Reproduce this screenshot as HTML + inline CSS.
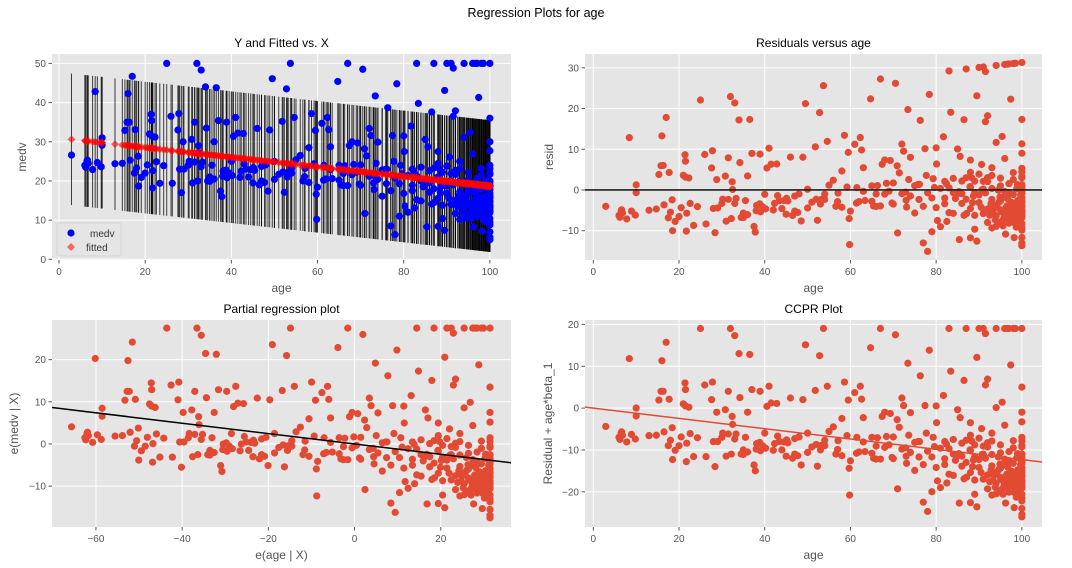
<!DOCTYPE html>
<html><head><meta charset="utf-8">
<style>
html,body{margin:0;padding:0;background:#fff;}
svg{display:block;font-family:"Liberation Sans","DejaVu Sans",sans-serif;}
.tick{font-size:10px;fill:#555;}
.alab{font-size:12px;fill:#555;}
.ttl{font-size:12px;fill:#000;}
</style></head>
<body>
<svg id="fig" width="1072" height="568" viewBox="0 0 1072 568">
<text x="536" y="17" text-anchor="middle" style="font-size:12.5px">Regression Plots for age</text>
</svg>
<script>
const ages=[2.9,6,6.2,6.5,6.6,6.8,7.8,8.4,8.9,9.8,10,10,13,14.7,15.3,15.8,16,16.3,16.5,17,17.5,17.7,18,18.4,18.5,19.1,20,21,21.4,21.5,21.5,21.7,21.8,22.3,22.6,23.4,25,26,26.3,27.6,27.8,28,28.4,28.8,29,30.2,30.8,31,31.5,32,32.2,32.4,33,33.3,34,34.2,34.5,35,35.5,36,36.5,37,37.5,37.8,38.1,38.9,39,40,40.2,40.5,41,41.5,42.3,42.8,43.4,44,45.4,46,46.5,47,47.7,48.5,48.9,49.5,50,51.8,52.3,52.8,53,53.7,54,54.6,56,56.6,57.1,58,58.6,59.2,59.5,59.7,59.8,61,61.5,62.3,62.6,63,63.4,64.7,65,65.4,66,67,67.4,68,68.4,69.3,70,70.5,70.9,71,71.4,72,72.4,73.1,73.4,73.6,74,75,75.8,76.3,77,77.4,77.7,78,78.4,79,79.3,80,80.1,80.3,81,81.7,82,82.5,83,83.4,84,85,85.4,85.6,86.5,87,87.1,88,88,88.3,89,89.5,89.5,90,90.6,91,91.5,91.5,92,92,93,93,94,94,95,95,95.4,96,96,96.2,96.6,97,97.4,97.5,98,98,98.2,98.5,99,100,100,100,100,100,100,100,100,100,100,100,100,100,100,100,
84,84.5,86,87,88.5,89,90,90.5,91,91.5,92.5,93,93.5,94,94.5,95,95.5,96,96.5,97,97,97.5,98,98,98.5,98.8,99,99.3,99.5,99.7,100,100,100,100,100,100,100,100,94,92,96,82,83,84,86.5,87.9,88,89,91,92,93,95,97,98,99,86,88,90,
30,31.5,33,35,36,38,39.5,42,43,44.5,45,47,48,50,51,52,54,55,57,58,60,62,63,65,66,67,68,69,70,72,73,74,75,76,77,78,79,80,81,82,83,85,86,87,88,89,90,91,92,93,
93.3,93.8,94.2,94.7,95.2,95.6,95.9,96.3,96.8,97.2,97.6,97.9,98.3,98.6,98.9,99.1,99.4,99.6,99.8,100,100,100,100,100,94.6,95.8,96.7,97.3,98.1,98.7,99.2,99.9,92.8,93.6,94.9,96.4,97.7,99,100,100,
20.5,24.3,32.5,38.8,45.1,53.2,61.4,66.3,69.7,72.9,76.1,79.6,82.4,85.3,88.7,90.7];
const medv=[26.6,24,23.5,25,25.3,24.5,22.9,42.8,24.7,23.6,31,29.1,24.4,24.5,32.9,35,42.3,35,25.3,46.7,22,33.1,23.3,26.3,18.7,20.9,22,32,37,35.4,31.5,18.2,22.6,31.2,24.9,19.4,50,36.5,19.4,33,37.2,23,17,30,23,25,30.6,19.5,35,50,20,29,48.3,24.8,44,33.5,20,21,24,30,43.8,35.4,17.4,16,22.5,35,20.8,25,21.4,31.4,36.2,32.2,22.5,32.1,23,21,22.7,33.4,19,23.7,19.6,17.4,33,46.1,20.4,35.2,17.1,43.5,21,50,22,36.2,26.5,20,23.2,28.5,37.2,24.4,32.9,16.6,10.2,34.7,24,36.2,33.1,28.7,20.6,45.4,24,19,18.8,50,29,30,24.2,29.7,18.9,48.5,28.2,11.7,26.4,33.4,31.6,17.8,41.7,24.5,29.9,16.1,23,38.7,8.5,31.6,25,6.3,44.8,11,24,31.5,27.5,13.6,12,34,23,13.1,50,39.8,23.5,30.6,8.3,28.7,37.6,50,14.5,27.5,8.4,23.1,10.4,43.1,7.4,50,26.1,50,48.8,36.5,37.9,15,10.2,25,50,31.1,14.4,22.2,32.4,50,26.9,8.3,50,50,41.3,12,50,21.5,7.2,50,15,50,36,30,27.7,24,20,17.8,13.8,10.4,8.8,7,5,5.6,12.5,15.6,
20,18.5,19.5,18,17,19.4,16.8,15.6,14,19,13.4,17.2,14.9,13.1,19.3,16.6,11.8,13.8,15.2,18.4,10.9,14.1,17.8,13.3,12.7,19.1,16.2,11.3,14.3,17.5,19.1,16.1,14.6,11.9,22,21.7,9.5,13.1,10.5,11.7,18.8,18.9,21.3,14.9,14.1,21,15.6,13.8,20,21.7,19.9,20.3,20.6,23.2,20.1,22.6,20.8,18.7,
24,24.8,23.6,19.9,20.5,21.2,22,20.9,24.3,22.9,19.5,20,24.1,25,21.7,22.3,23.3,25.4,21.1,19.6,18.4,20.5,22.9,20.2,21.9,18.8,21.6,22.2,24.1,21.2,19.5,20.4,22.8,19.3,17.5,20.7,19.3,16.8,21.4,17.5,15.2,19.6,17.1,23.3,24.5,22.2,23.8,21.9,22.7,23.1,
13.8,12.1,15.4,11.2,13.9,10.4,12.7,14.8,11.7,13.2,15.9,12.4,10.8,14.5,13.1,11.5,12.9,14.2,10.2,13.4,18.2,14.9,12.2,16.8,16.3,17.4,16.9,12.3,15.1,9.7,13.6,18.6,16.2,15.7,17.6,12.1,11.3,14.4,23.1,19.8,
24.1,23.9,27.1,22.8,23.4,22.1,20.2,23.9,19.2,21.5,23,21.8,22.4,20.1,18.6,19.9];
const intercept=[30.98];
const slope=[-0.123];
const piHalf=[16.8];
const meanAge=[68.57];
const meanMedv=[22.53];
const xTicksAge=[0,20,40,60,80,100];
const yTicksTL=[0,10,20,30,40,50];
const yTicksTR=[-10,0,10,20,30];
const xTicksBL=[-60,-40,-20,0,20];
const yTicksBL=[-10,0,10,20];
const yTicksBR=[-20,-10,0,10,20];

const NS='http://www.w3.org/2000/svg';
const svg=document.getElementById('fig');
function mk(tag,attrs,parent){const e=document.createElementNS(NS,tag);for(const k in attrs)e.setAttribute(k,attrs[k]);(parent||svg).appendChild(e);return e;}
function scale(d0,d1,r0,r1){return v=>r0+(v-d0)/(d1-d0)*(r1-r0);}

function panel(o){
  const g=mk('g',{});
  
  
  const bg=mk('rect',{x:o.x0,y:o.y0,width:o.x1-o.x0,height:o.y1-o.y0,fill:'#E5E5E5'},g);
  
  
  const sx=scale(o.xd[0],o.xd[1],o.x0,o.x1), sy=scale(o.yd[0],o.yd[1],o.y1,o.y0);
  o.xt.forEach(t=>{const X=sx(t);
    const l=mk('line',{x1:X,x2:X,y1:o.y0,y2:o.y1,stroke:'#fff','stroke-width':1},g);
    
    
    mk('line',{x1:X,x2:X,y1:o.y1,y2:o.y1+3.5,stroke:'#555'},g);
    const tx=mk('text',{x:X,y:o.y1+15,'text-anchor':'middle',class:'tick'},g);
    tx.textContent=String(t).replace('-','\u2212');
    
    
  });
  o.yt.forEach(t=>{const Y=sy(t);
    const l=mk('line',{x1:o.x0,x2:o.x1,y1:Y,y2:Y,stroke:'#fff','stroke-width':1},g);
    
    
    mk('line',{x1:o.x0-3.5,x2:o.x0,y1:Y,y2:Y,stroke:'#555'},g);
    const tx=mk('text',{x:o.x0-6,y:Y+3.5,'text-anchor':'end',class:'tick'},g);
    tx.textContent=String(t).replace('-','\u2212');
    
    
  });
  const t=mk('text',{x:(o.x0+o.x1)/2,y:o.y0-7,'text-anchor':'middle',class:'ttl'},g);
  t.textContent=o.title;
  
  
  const xl=mk('text',{x:(o.x0+o.x1)/2,y:o.y1+32,'text-anchor':'middle',class:'alab'},g);
  xl.textContent=o.xlab;
  
  
  const yc=(o.y0+o.y1)/2;
  const yl=mk('text',{x:o.ylx,y:yc,'text-anchor':'middle',class:'alab',transform:`rotate(-90 ${o.ylx} ${yc})`},g);
  yl.textContent=o.ylab;
  
  
  const clip=mk('clipPath',{id:'c'+o.name},g);
  mk('rect',{x:o.x0,y:o.y0,width:o.x1-o.x0,height:o.y1-o.y0},clip);
  const plot=mk('g',{'clip-path':`url(#c${o.name})`},g);
  return {sx,sy,plot};
}
function fitted(a){return intercept[0]+slope[0]*a;}

// Top-left
{
  const p=panel({name:'y-fitted-panel',x0:52,x1:511,y0:54,y1:260,xd:[-1.62,104.9],yd:[-0.18,52.4],xt:xTicksAge,yt:yTicksTL,title:'Y and Fitted vs. X',xlab:'age',ylab:'medv',ylx:26});
  ages.forEach((a,i)=>{const f=fitted(a);
    const l=mk('line',{x1:p.sx(a),x2:p.sx(a),y1:p.sy(f-piHalf[0]),y2:p.sy(f+piHalf[0]),stroke:'#000','stroke-width':1,'stroke-opacity':0.75},p.plot);
    
    
  });
  ages.forEach((a,i)=>{
    const c=mk('circle',{cx:p.sx(a),cy:p.sy(medv[i]),r:3.6,fill:'#0000FF'},p.plot);
    
    
  });
  ages.forEach((a,i)=>{const X=p.sx(a),Y=p.sy(fitted(a));
    const d=mk('polygon',{points:`${X},${Y-4} ${X+4},${Y} ${X},${Y+4} ${X-4},${Y}`,fill:'#FF0000','fill-opacity':0.6},p.plot);
    
    
  });
  const lg=mk('g',{});
  
  
  mk('rect',{x:57,y:223,width:64,height:33,rx:2,fill:'#E5E5E5',stroke:'#d4d4d4'},lg);
  mk('circle',{cx:71,cy:233,r:3.6,fill:'#0000FF'},lg);
  mk('polygon',{points:'71,243 75,247 71,251 67,247',fill:'#FF6666'},lg);
  const t1=mk('text',{x:90,y:237,class:'tick',style:'fill:#333;font-size:10px'},lg);t1.textContent='medv';
  
  
  const t2=mk('text',{x:86,y:251,class:'tick',style:'fill:#333;font-size:10px'},lg);t2.textContent='fitted';
  
  
}
// Top-right
{
  const p=panel({name:'residuals-panel',x0:585,x1:1042,y0:54,y1:260,xd:[-1.94,104.7],yd:[-17.2,33.4],xt:xTicksAge,yt:yTicksTR,title:'Residuals versus age',xlab:'age',ylab:'resid',ylx:553});
  ages.forEach((a,i)=>{
    const c=mk('circle',{cx:p.sx(a),cy:p.sy(medv[i]-fitted(a)),r:3.6,fill:'#E24A33'},p.plot);
    
    
  });
  const l=mk('line',{x1:585,x2:1042,y1:p.sy(0),y2:p.sy(0),stroke:'#222','stroke-width':1.6},p.plot);
  
  
}
// Bottom-left
{
  const p=panel({name:'partial-regression-panel',x0:52,x1:511,y0:320,y1:527,xd:[-70.2,36.3],yd:[-19.7,29.4],xt:xTicksBL,yt:yTicksBL,title:'Partial regression plot',xlab:'e(age | X)',ylab:'e(medv | X)',ylx:18});
  ages.forEach((a,i)=>{
    const c=mk('circle',{cx:p.sx(a-meanAge[0]),cy:p.sy(medv[i]-meanMedv[0]),r:3.6,fill:'#E24A33'},p.plot);
    
    
  });
  const l=mk('line',{x1:p.sx(-70.2),x2:p.sx(36.3),y1:p.sy(-70.2*slope[0]),y2:p.sy(36.3*slope[0]),stroke:'#000','stroke-width':1.5},p.plot);
  
  
}
// Bottom-right
{
  const p=panel({name:'ccpr-panel',x0:585,x1:1042,y0:320,y1:527,xd:[-1.94,104.7],yd:[-28.4,21.05],xt:xTicksAge,yt:yTicksBR,title:'CCPR Plot',xlab:'age',ylab:'Residual + age*beta_1',ylx:552});
  ages.forEach((a,i)=>{
    const c=mk('circle',{cx:p.sx(a),cy:p.sy(medv[i]-intercept[0]),r:3.6,fill:'#E24A33'},p.plot);
    
    
  });
  const l=mk('line',{x1:p.sx(-1.94),x2:p.sx(104.7),y1:p.sy(-1.94*slope[0]),y2:p.sy(104.7*slope[0]),stroke:'#E24A33','stroke-width':1.5},p.plot);
  
  
}
</script>
</body></html>
